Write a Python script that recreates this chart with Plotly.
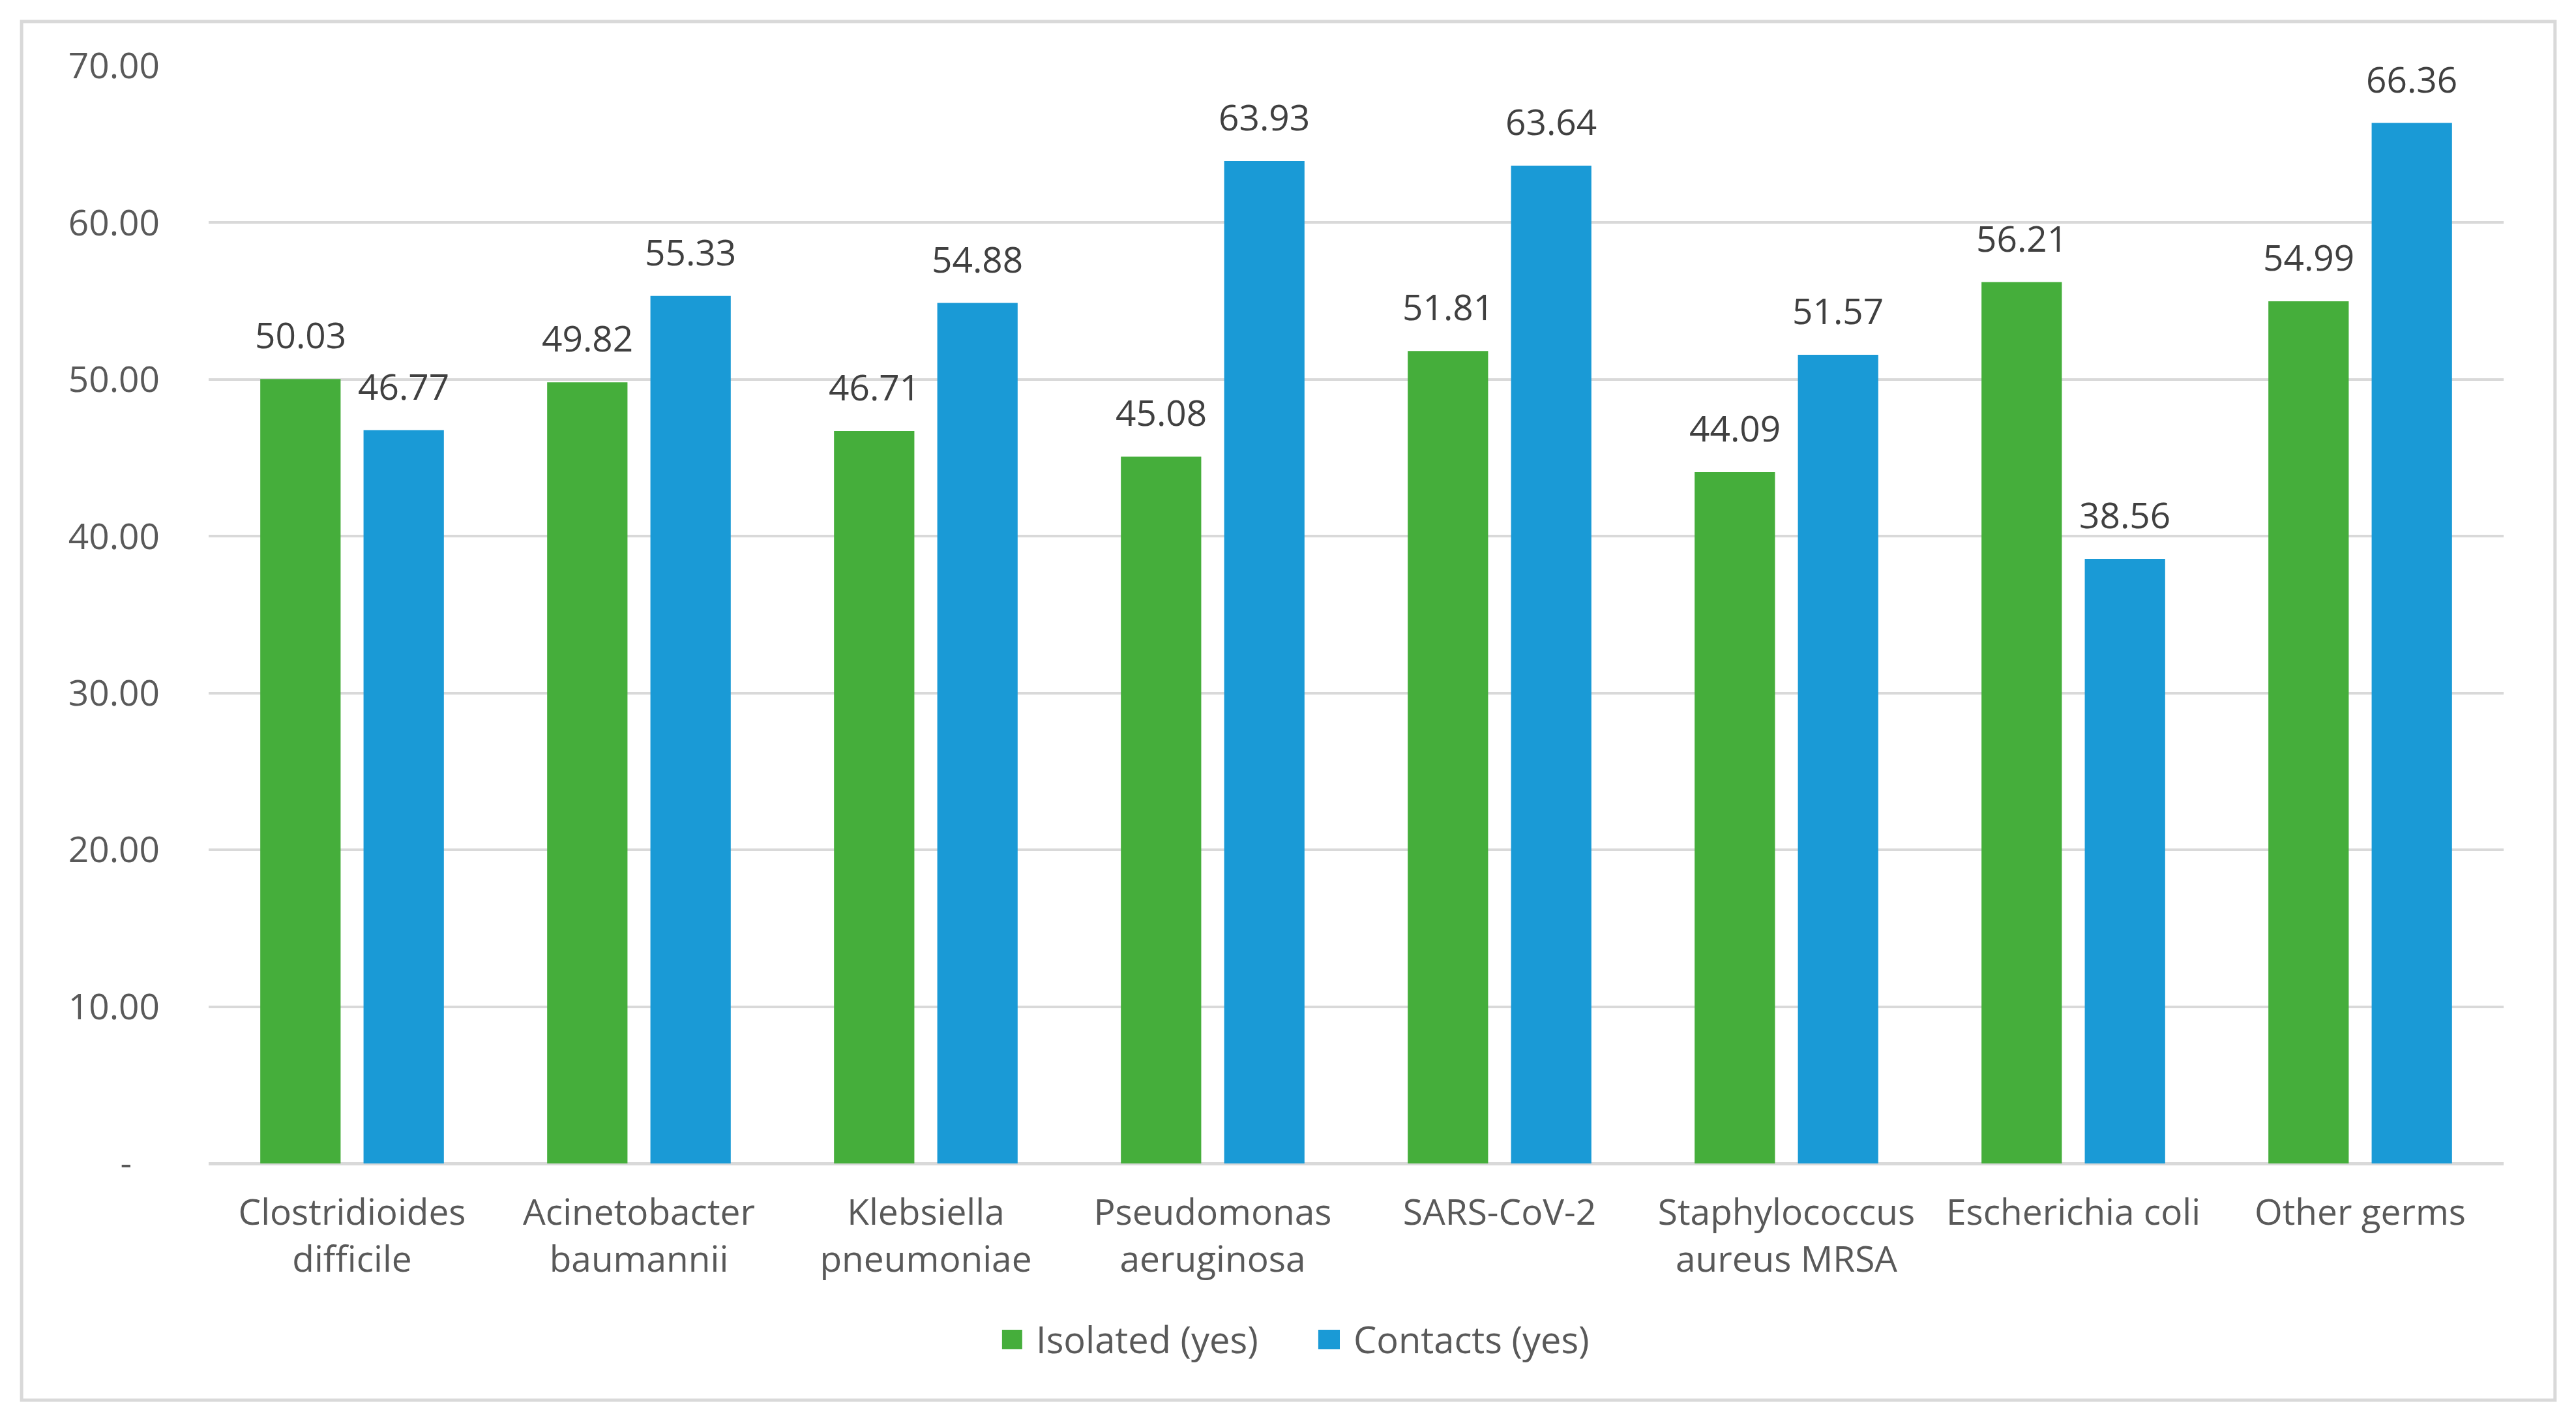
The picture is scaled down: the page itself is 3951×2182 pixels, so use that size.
import plotly.graph_objects as go

# data
categories = [
    "Clostridioides<br>difficile",
    "Acinetobacter<br>baumannii",
    "Klebsiella<br>pneumoniae",
    "Pseudomonas<br>aeruginosa",
    "SARS-CoV-2",
    "Staphylococcus<br>aureus MRSA",
    "Escherichia coli",
    "Other germs",
]
isolated_yes = [50.03, 49.82, 46.71, 45.08, 51.81, 44.09, 56.21, 54.99]
contacts_yes = [46.77, 55.33, 54.88, 63.93, 63.64, 51.57, 38.56, 66.36]
series_names = ["Isolated (yes)", "Contacts (yes)"]

y_tickvals = [0, 10, 20, 30, 40, 50, 60, 70]
y_ticktext = ["-\u00a0\u00a0\u00a0", "10.00", "20.00", "30.00", "40.00", "50.00", "60.00", "70.00"]

GREEN = "#45AE3B"
BLUE = "#1A9AD6"
GRID = "#D9D9D9"
TXT = "#595959"
FONT = "Open Sans"
FS = 55

fig = go.Figure()
fig.add_trace(go.Bar(x=categories, y=isolated_yes, name=series_names[0],
                     marker=dict(color=GREEN, line=dict(width=0))))
fig.add_trace(go.Bar(x=categories, y=contacts_yes, name=series_names[1],
                     marker=dict(color=BLUE, line=dict(width=0))))

# value labels above the bars (Excel leaves a gap above each bar)
annotations = []
for vals, shift in ((isolated_yes, -79), (contacts_yes, 79)):
    for cat, v in zip(categories, vals):
        annotations.append(dict(
            x=cat, y=v, xref="x", yref="y", text=f"{v:.2f}",
            showarrow=False, xshift=shift, yshift=29, yanchor="bottom",
            font=dict(family=FONT, size=FS, color="#404040"),
        ))

# hand-drawn legend with larger swatches
legend_items = [
    (series_names[0], GREEN, 0.3457, 0.3545),
    (series_names[1], BLUE, 0.4835, 0.4929),
]
for name, color, x0, x1 in legend_items:
    annotations.append(dict(
        x=x1 + 0.0055, y=-0.160, xref="paper", yref="paper", text=name,
        showarrow=False, xanchor="left", yanchor="middle",
        font=dict(family=FONT, size=56, color=TXT),
    ))

shapes = [
    dict(type="rect", xref="paper", yref="paper",
         x0=-0.0815, x1=1.0224, y0=-0.2157, y1=1.0404,
         line=dict(color=GRID, width=5), fillcolor="rgba(0,0,0,0)", layer="below"),
]
for name, color, x0, x1 in legend_items:
    shapes.append(dict(type="rect", xref="paper", yref="paper",
                       x0=x0, x1=x1, y0=-0.1515, y1=-0.1693,
                       line=dict(width=0), fillcolor=color))

# the page body adds an 8px margin, so the figure is 8px smaller on each axis
fig.update_layout(
    width=3943,
    height=2174,
    margin=dict(l=312, r=111, t=93, b=398),
    paper_bgcolor="white",
    plot_bgcolor="white",
    barmode="group",
    bargap=0.28,
    bargroupgap=0.222,
    showlegend=False,
    font=dict(family=FONT, size=FS, color=TXT),
    annotations=annotations,
    shapes=shapes,
    xaxis=dict(
        showgrid=False,
        showline=False,
        ticks="",
        tickfont=dict(family=FONT, size=FS, color=TXT),
        ticklabelstandoff=38,
    ),
    yaxis=dict(
        range=[0, 70],
        tickvals=y_tickvals,
        ticktext=y_ticktext,
        showgrid=True,
        gridcolor=GRID,
        gridwidth=4,
        zeroline=True,
        zerolinecolor=GRID,
        zerolinewidth=5,
        showline=False,
        ticks="",
        tickfont=dict(family=FONT, size=FS, color=TXT),
        ticklabelstandoff=74,
    ),
)

fig.write_html("out.html")
